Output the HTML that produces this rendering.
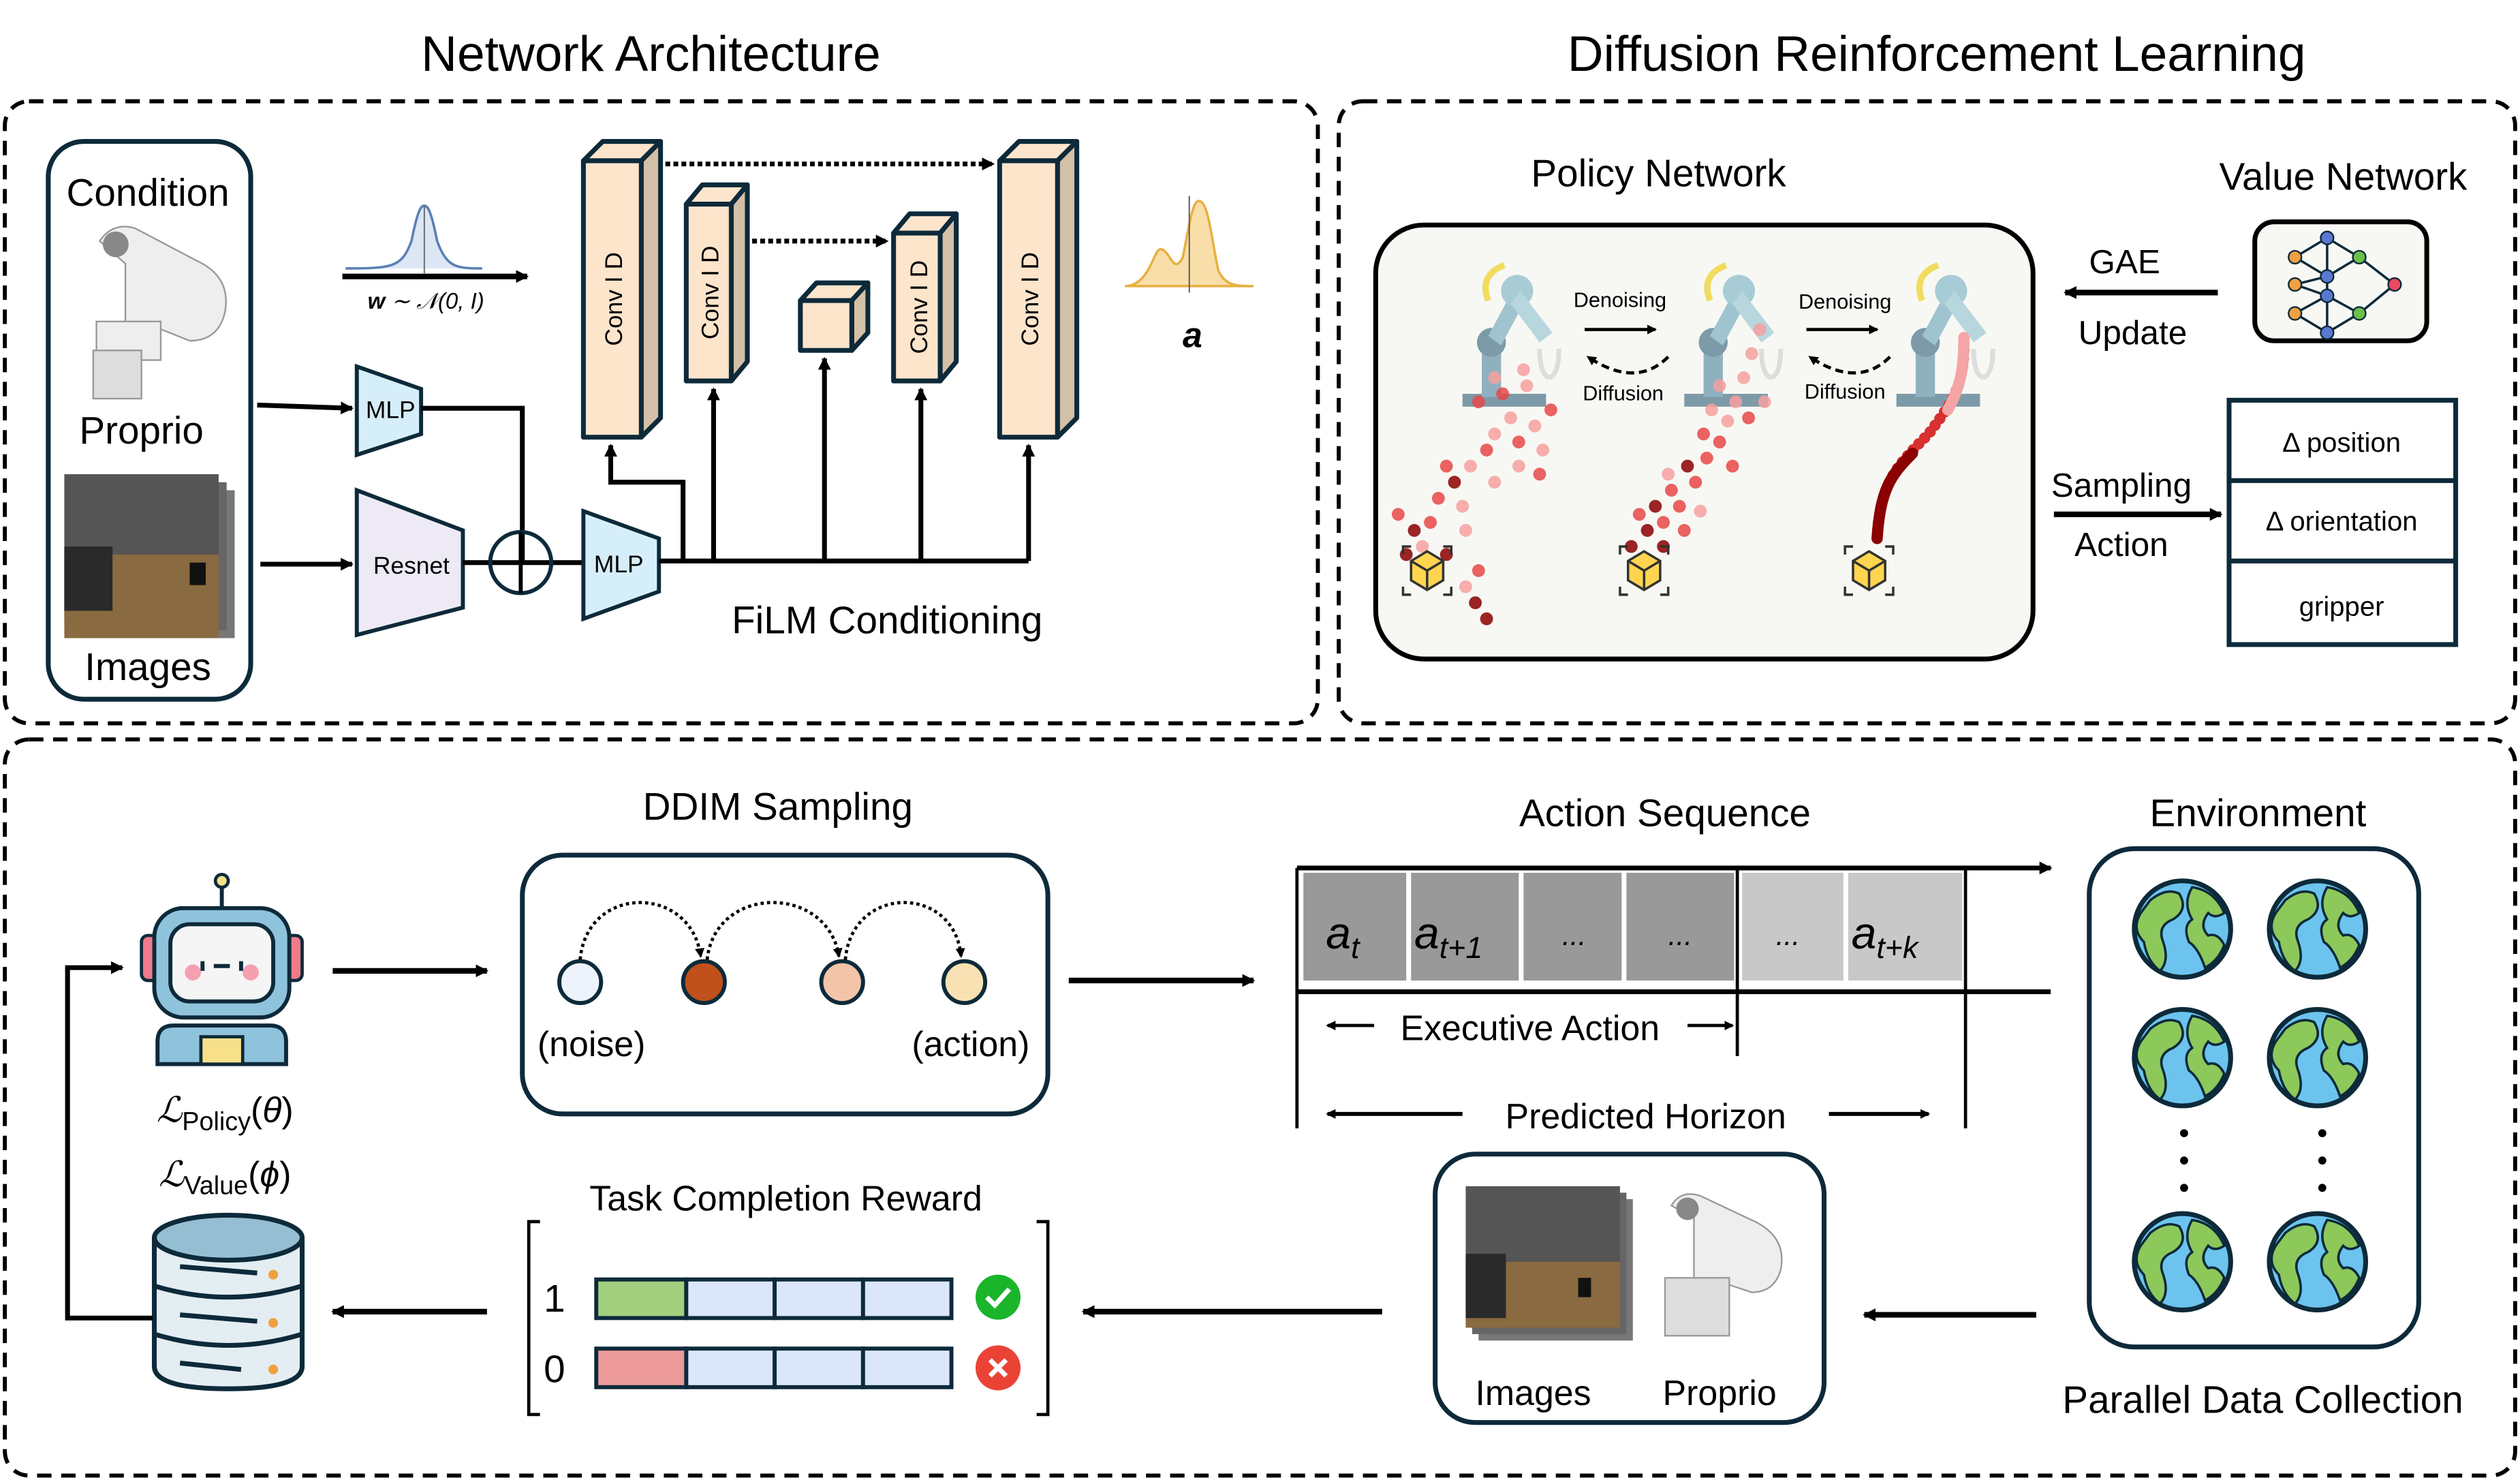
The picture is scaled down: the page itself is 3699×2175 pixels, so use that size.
<!DOCTYPE html>
<html><head><meta charset="utf-8"><style>html,body{margin:0;padding:0;background:#fff}svg{display:block}text{font-family:"Liberation Sans",sans-serif;fill:#000}</style></head><body>
<svg width="3699" height="2175" viewBox="0 0 1568 922" xmlns="http://www.w3.org/2000/svg">
<defs>
<marker id="ah" markerWidth="8" markerHeight="8" refX="7" refY="4" orient="auto" markerUnits="userSpaceOnUse"><path d="M0,0 L8,4 L0,8 z" fill="#000"/></marker>
<marker id="ahs" markerWidth="6" markerHeight="6" refX="5" refY="3" orient="auto" markerUnits="userSpaceOnUse"><path d="M0,0 L6,3 L0,6 z" fill="#000"/></marker>
<g id="globe"><circle r="30" fill="#6cc4ee" stroke="#0d2a3a" stroke-width="3"/><path d="M-20,-18 q10,-8 18,-4 q6,10 -4,16 q-10,4 -6,14 q4,12 -2,18 q-8,-6 -10,-18 q-8,-8 -2,-18z M6,-26 q14,2 20,16 q-6,4 -10,0 q-6,8 0,14 q6,-2 10,6 q-4,10 -12,14 q-4,-12 -10,-16 q-4,-10 2,-14 q-6,-10 0,-20z" fill="#8cc85a" stroke="#0d2a3a" stroke-width="1.5"/></g>
<g id="cube"><path d="M0,-12 L10,-6 L10,6 L0,12 L-10,6 L-10,-6z" fill="#ffd54f" stroke="#333" stroke-width="1.5"/><path d="M-10,-6 L0,0 L10,-6 M0,0 L0,12" fill="none" stroke="#333" stroke-width="1.5"/><path d="M-15,-10 v-5 h5 M10,-15 h5 v5 M15,10 v5 h-5 M-10,15 h-5 v-5" fill="none" stroke="#333" stroke-width="1.5"/></g>
<g id="arm"><rect x="-30" y="50" width="52" height="8" fill="#7d9aa8"/><rect x="-18" y="20" width="12" height="32" fill="#8fb1bf"/><circle cx="-12" cy="18" r="9" fill="#7d9aa8"/><path d="M-14,14 L0,-12 L8,-6 L-6,20z" fill="#9fc3cf"/><circle cx="4" cy="-14" r="10" fill="#a8ccd6"/><path d="M6,-14 L26,12 L18,18 L0,-6z" fill="#b8d6de"/><path d="M-14,-8 q-6,-16 10,-22" fill="none" stroke="#f2dc60" stroke-width="4"/><path d="M18,22 q0,16 6,18 M30,22 q0,16 -6,18" fill="none" stroke="#ddd" stroke-width="3"/></g>
</defs>

<!-- titles -->
<text x="405" y="44" font-size="31" text-anchor="middle">Network Architecture</text>
<text x="1205" y="44" font-size="31" text-anchor="middle">Diffusion Reinforcement Learning</text>

<!-- dashed frames -->
<g fill="none" stroke="#000" stroke-width="2.5" stroke-dasharray="9,6">
<rect x="3" y="63" width="817" height="387" rx="15"/>
<rect x="833" y="63" width="732" height="387" rx="15"/>
<rect x="3" y="460" width="1562" height="458" rx="15"/>
</g>

<!-- Condition box -->
<rect x="30" y="88" width="126" height="347" rx="22" fill="none" stroke="#0d2a3a" stroke-width="3"/>
<text x="92" y="128" font-size="24" text-anchor="middle">Condition</text>
<text x="88" y="276" font-size="24" text-anchor="middle">Proprio</text>
<text x="92" y="423" font-size="24" text-anchor="middle">Images</text>
<!-- robot arm pic -->
<g fill="#eee" stroke="#999" stroke-width="1">
<path d="M62,150 q8,-12 22,-8 l38,20 q22,10 18,32 q-4,18 -22,18 l-20,-8 l0,20 l-20,0 l0,-60z"/>
<rect x="60" y="200" width="40" height="24"/>
<rect x="58" y="218" width="30" height="30" fill="#ddd"/>
</g>
<circle cx="72" cy="152" r="8" fill="#888"/>
<!-- images stack -->
<rect x="50" y="305" width="96" height="92" fill="#777"/>
<rect x="45" y="300" width="96" height="92" fill="#666"/>
<rect x="40" y="295" width="96" height="92" fill="#555"/>
<rect x="40" y="345" width="96" height="52" fill="#8a6a40"/>
<rect x="40" y="340" width="30" height="40" fill="#2a2a2a"/>
<rect x="118" y="350" width="10" height="14" fill="#111"/>

<!-- arrows to MLP / Resnet -->
<line x1="160" y1="252" x2="219" y2="254" stroke="#000" stroke-width="3" marker-end="url(#ah)"/>
<line x1="162" y1="351" x2="219" y2="351" stroke="#000" stroke-width="3" marker-end="url(#ah)"/>
<path d="M222,228 L262,242 L262,270 L222,283z" fill="#d6eef9" stroke="#0d2a3a" stroke-width="2.5"/>
<text x="243" y="260" font-size="15" text-anchor="middle">MLP</text>
<path d="M222,305 L288,330 L288,378 L222,395z" fill="#eeeaf5" stroke="#0d2a3a" stroke-width="2.5"/>
<text x="256" y="357" font-size="15" text-anchor="middle">Resnet</text>
<path d="M262,254 H325 V350" fill="none" stroke="#000" stroke-width="3"/>
<line x1="288" y1="350" x2="362" y2="350" stroke="#000" stroke-width="3"/>
<circle cx="324" cy="350" r="19" fill="none" stroke="#0d2a3a" stroke-width="2.5"/>
<line x1="324" y1="331" x2="324" y2="369" stroke="#000" stroke-width="2.5"/>
<path d="M363,318 L410,335 L410,368 L363,385z" fill="#d6eef9" stroke="#0d2a3a" stroke-width="2.5"/>
<text x="385" y="356" font-size="15" text-anchor="middle">MLP</text>
<g fill="none" stroke="#000" stroke-width="3">
<path d="M410,349 H640"/>
<path d="M425,349 V300 H380 V277" marker-end="url(#ah)"/>
<path d="M444,349 V242" marker-end="url(#ah)"/>
<path d="M513,349 V223" marker-end="url(#ah)"/>
<path d="M573,349 V242" marker-end="url(#ah)"/>
<path d="M640,349 V277" marker-end="url(#ah)"/>
</g>

<!-- conv blocks -->
<g stroke="#0d2a3a" stroke-width="3" stroke-linejoin="round">
<path d="M363,100 l12,-12 h36 l-12,12z" fill="#fde5cc"/><path d="M399,100 l12,-12 v172 l-12,12z" fill="#d4c0a6"/><rect x="363" y="100" width="36" height="172" fill="#fde5cc"/>
<path d="M427,127 l10,-12 h28 l-10,12z" fill="#fde5cc"/><path d="M455,127 l10,-12 v110 l-10,12z" fill="#d4c0a6"/><rect x="427" y="127" width="28" height="110" fill="#fde5cc"/>
<path d="M498,187 l10,-11 h32 l-10,11z" fill="#fde5cc"/><path d="M530,187 l10,-11 v31 l-10,11z" fill="#d4c0a6"/><rect x="498" y="187" width="32" height="31" fill="#fde5cc"/>
<path d="M556,145 l10,-12 h29 l-10,12z" fill="#fde5cc"/><path d="M585,145 l10,-12 v92 l-10,12z" fill="#d4c0a6"/><rect x="556" y="145" width="29" height="92" fill="#fde5cc"/>
<path d="M622,100 l12,-12 h36 l-12,12z" fill="#fde5cc"/><path d="M658,100 l12,-12 v172 l-12,12z" fill="#d4c0a6"/><rect x="622" y="100" width="36" height="172" fill="#fde5cc"/>
</g>
<g font-size="15" text-anchor="middle">
<text transform="translate(387,186) rotate(-90)">Conv I D</text>
<text transform="translate(447,182) rotate(-90)">Conv I D</text>
<text transform="translate(577,191) rotate(-90)">Conv I D</text>
<text transform="translate(646,186) rotate(-90)">Conv I D</text>
</g>
<line x1="414" y1="102" x2="618" y2="102" stroke="#000" stroke-width="3" stroke-dasharray="3,2" marker-end="url(#ah)"/>
<line x1="468" y1="150" x2="552" y2="150" stroke="#000" stroke-width="3" stroke-dasharray="3,2" marker-end="url(#ah)"/>

<!-- gaussian -->
<path d="M215,167 C245,167 250,166 256,150 C260,130 262,128 264,128 C266,128 268,130 272,150 C278,166 283,167 300,167" fill="#dce6f5" stroke="#5a7fb5" stroke-width="1.5"/>
<line x1="264" y1="128" x2="264" y2="170" stroke="#666" stroke-width="0.8"/>
<line x1="213" y1="172" x2="328" y2="172" stroke="#000" stroke-width="3.5" marker-end="url(#ah)"/>
<text x="265" y="192" font-size="14" text-anchor="middle" font-family="Liberation Serif" font-style="italic"><tspan font-weight="bold">w</tspan> ∼ 𝒩(0, I)</text>
<!-- bimodal -->
<path d="M700,178 C715,178 718,155 722,155 C728,155 730,172 736,160 C740,140 742,125 746,125 C752,125 754,150 758,168 C762,178 770,178 780,178z" fill="#f9deaa" stroke="#e8b040" stroke-width="1.5"/>
<line x1="740" y1="122" x2="740" y2="182" stroke="#555" stroke-width="0.8"/>
<text x="742" y="216" font-size="22" font-family="Liberation Serif" font-style="italic" font-weight="bold" text-anchor="middle">a</text>
<text x="552" y="394" font-size="24" text-anchor="middle">FiLM Conditioning</text>

<!-- RIGHT TOP -->
<text x="1032" y="116" font-size="24" text-anchor="middle">Policy Network</text>
<text x="1458" y="118" font-size="24" text-anchor="middle">Value Network</text>
<rect x="856" y="140" width="409" height="270" rx="30" fill="#f7f8f4" stroke="#000" stroke-width="3"/>
<use href="#arm" x="940" y="195"/>
<use href="#arm" x="1078" y="195"/>
<use href="#arm" x="1210" y="195"/>
<text x="1008" y="191" font-size="13" text-anchor="middle">Denoising</text>
<text x="1148" y="192" font-size="13" text-anchor="middle">Denoising</text>
<line x1="986" y1="205" x2="1030" y2="205" stroke="#000" stroke-width="2" marker-end="url(#ahs)"/>
<line x1="1124" y1="205" x2="1168" y2="205" stroke="#000" stroke-width="2" marker-end="url(#ahs)"/>
<path d="M1038,222 q-20,20 -50,0" fill="none" stroke="#000" stroke-width="2" stroke-dasharray="5,3" marker-end="url(#ahs)"/>
<path d="M1176,222 q-20,20 -50,0" fill="none" stroke="#000" stroke-width="2" stroke-dasharray="5,3" marker-end="url(#ahs)"/>
<text x="1010" y="249" font-size="13" text-anchor="middle">Diffusion</text>
<text x="1148" y="248" font-size="13" text-anchor="middle">Diffusion</text>
<!-- dot clouds -->
<g fill="#e84848" opacity="0.85">
<circle cx="870" cy="320" r="4"/><circle cx="880" cy="330" r="4" fill="#8b0000"/><circle cx="895" cy="310" r="4"/><circle cx="905" cy="300" r="4" fill="#8b0000"/><circle cx="912" cy="330" r="4" fill="#f7a0a0"/><circle cx="900" cy="345" r="4" fill="#8b0000"/><circle cx="920" cy="355" r="4"/><circle cx="918" cy="375" r="4" fill="#8b0000"/><circle cx="925" cy="385" r="4" fill="#8b0000"/><circle cx="890" cy="325" r="4"/><circle cx="910" cy="315" r="4" fill="#f7a0a0"/><circle cx="885" cy="340" r="4" fill="#f7a0a0"/><circle cx="875" cy="345" r="4" fill="#8b0000"/><circle cx="912" cy="365" r="4" fill="#f7a0a0"/>
<circle cx="900" cy="290" r="4"/><circle cx="915" cy="290" r="4" fill="#f7a0a0"/><circle cx="925" cy="280" r="4"/><circle cx="930" cy="270" r="4" fill="#f7a0a0"/><circle cx="940" cy="260" r="4" fill="#f7a0a0"/><circle cx="945" cy="275" r="4"/><circle cx="955" cy="265" r="4" fill="#f7a0a0"/><circle cx="960" cy="280" r="4" fill="#f7a0a0"/><circle cx="935" cy="245" r="4"/><circle cx="950" cy="240" r="4" fill="#f7a0a0"/><circle cx="948" cy="230" r="4" fill="#f7a0a0"/><circle cx="965" cy="255" r="4"/><circle cx="930" cy="300" r="4" fill="#f7a0a0"/><circle cx="945" cy="290" r="4" fill="#f7a0a0"/><circle cx="958" cy="295" r="4"/><circle cx="920" cy="250" r="4"/><circle cx="930" cy="235" r="4" fill="#f7a0a0"/>
<circle cx="1015" cy="340" r="4" fill="#8b0000"/><circle cx="1025" cy="330" r="4" fill="#8b0000"/><circle cx="1035" cy="325" r="4"/><circle cx="1045" cy="315" r="4"/><circle cx="1030" cy="315" r="4" fill="#8b0000"/><circle cx="1040" cy="305" r="4"/><circle cx="1055" cy="300" r="4"/><circle cx="1050" cy="290" r="4" fill="#8b0000"/><circle cx="1062" cy="285" r="4"/><circle cx="1070" cy="275" r="4"/><circle cx="1060" cy="270" r="4"/><circle cx="1075" cy="262" r="4" fill="#f7a0a0"/><circle cx="1080" cy="250" r="4" fill="#f7a0a0"/><circle cx="1070" cy="240" r="4" fill="#f7a0a0"/><circle cx="1085" cy="235" r="4" fill="#f7a0a0"/><circle cx="1090" cy="220" r="4" fill="#f7a0a0"/><circle cx="1095" cy="205" r="4" fill="#f7a0a0"/><circle cx="1065" cy="255" r="4" fill="#f7a0a0"/><circle cx="1088" cy="260" r="4"/><circle cx="1078" cy="290" r="4"/><circle cx="1020" cy="320" r="4"/><circle cx="1048" cy="330" r="4"/><circle cx="1058" cy="318" r="4" fill="#f7a0a0"/><circle cx="1038" cy="295" r="4" fill="#f7a0a0"/><circle cx="1098" cy="250" r="4" fill="#f7a0a0"/><circle cx="1035" cy="340" r="4" fill="#8b0000"/>
</g>
<path d="M1168,335 C1170,300 1180,290 1200,270 C1215,250 1222,240 1222,215" fill="none" stroke="#d83030" stroke-width="7" stroke-linecap="round" stroke-dasharray="0.1,5"/>
<path d="M1168,335 C1170,305 1176,296 1190,282" fill="none" stroke="#8b0000" stroke-width="7" stroke-linecap="round"/>
<path d="M1212,255 C1220,240 1222,230 1222,210" fill="none" stroke="#f5a5a5" stroke-width="7" stroke-linecap="round"/>
<use href="#cube" x="888" y="355"/>
<use href="#cube" x="1023" y="355"/>
<use href="#cube" x="1163" y="355"/>

<text x="1322" y="170" font-size="21" text-anchor="middle">GAE</text>
<line x1="1380" y1="182" x2="1285" y2="182" stroke="#000" stroke-width="3.5" marker-end="url(#ah)"/>
<text x="1327" y="214" font-size="21" text-anchor="middle">Update</text>
<rect x="1403" y="138" width="107" height="74" rx="12" fill="#f7f8f4" stroke="#000" stroke-width="3"/>
<g stroke="#0d2a3a" stroke-width="1.5" fill="none"><path d="M1428,160 L1448,148 L1468,160 L1490,177 L1468,195 L1448,207 L1428,195 M1428,160 L1448,172 L1428,177 L1448,184 L1428,195 M1448,148 L1448,207 M1468,160 L1448,172 M1468,195 L1448,184"/></g>
<g stroke="#0d2a3a" stroke-width="1"><circle cx="1428" cy="160" r="4" fill="#f0a040"/><circle cx="1428" cy="177" r="4" fill="#f0a040"/><circle cx="1428" cy="195" r="4" fill="#f0a040"/><circle cx="1448" cy="148" r="4" fill="#5a78d0"/><circle cx="1448" cy="172" r="4" fill="#5a78d0"/><circle cx="1448" cy="184" r="4" fill="#5a78d0"/><circle cx="1448" cy="207" r="4" fill="#5a78d0"/><circle cx="1468" cy="160" r="4" fill="#6cbf4a"/><circle cx="1468" cy="195" r="4" fill="#6cbf4a"/><circle cx="1490" cy="177" r="4" fill="#e84a5f"/></g>

<text x="1320" y="309" font-size="21" text-anchor="middle">Sampling</text>
<line x1="1278" y1="320" x2="1382" y2="320" stroke="#000" stroke-width="3.5" marker-end="url(#ah)"/>
<text x="1320" y="346" font-size="21" text-anchor="middle">Action</text>
<g fill="none" stroke="#0d2a3a" stroke-width="3"><rect x="1387" y="249" width="141" height="152"/><line x1="1387" y1="299" x2="1528" y2="299"/><line x1="1387" y1="349" x2="1528" y2="349"/></g>
<text x="1457" y="281" font-size="17" text-anchor="middle">Δ position</text>
<text x="1457" y="330" font-size="17" text-anchor="middle">Δ orientation</text>
<text x="1457" y="383" font-size="17" text-anchor="middle">gripper</text>

<!-- BOTTOM -->
<text x="484" y="510" font-size="24" text-anchor="middle">DDIM Sampling</text>
<rect x="325" y="532" width="327" height="161" rx="25" fill="none" stroke="#0d2a3a" stroke-width="3"/>
<g stroke="#0d2a3a" stroke-width="2.5"><circle cx="361" cy="611" r="13" fill="#eef3fb"/><circle cx="438" cy="611" r="13" fill="#c0501c"/><circle cx="524" cy="611" r="13" fill="#f4c4a8"/><circle cx="600" cy="611" r="13" fill="#f8e2b4"/></g>
<g fill="none" stroke="#000" stroke-width="2" stroke-dasharray="2,2"><path d="M361,597 C365,550 430,550 436,595" marker-end="url(#ahs)"/><path d="M440,597 C445,550 515,550 522,595" marker-end="url(#ahs)"/><path d="M526,597 C530,550 594,550 598,595" marker-end="url(#ahs)"/></g>
<text x="368" y="657" font-size="22" text-anchor="middle">(noise)</text>
<text x="604" y="657" font-size="22" text-anchor="middle">(action)</text>

<!-- robot icon -->
<line x1="138" y1="550" x2="138" y2="568" stroke="#0d2a3a" stroke-width="2.5"/><circle cx="138" cy="548" r="4" fill="#f8e08a" stroke="#0d2a3a" stroke-width="2"/>
<rect x="88" y="582" width="12" height="28" rx="4" fill="#ef7a8a" stroke="#0d2a3a" stroke-width="2"/><rect x="176" y="582" width="12" height="28" rx="4" fill="#ef7a8a" stroke="#0d2a3a" stroke-width="2"/>
<rect x="96" y="565" width="84" height="68" rx="18" fill="#8fc3dc" stroke="#0d2a3a" stroke-width="2.5"/>
<rect x="106" y="575" width="64" height="48" rx="12" fill="#f5f5f5" stroke="#0d2a3a" stroke-width="2.5"/>
<circle cx="120" cy="605" r="5" fill="#f4a0b0"/><circle cx="156" cy="605" r="5" fill="#f4a0b0"/><line x1="126" y1="598" x2="126" y2="604" stroke="#0d2a3a" stroke-width="2.5"/><line x1="133" y1="601" x2="143" y2="601" stroke="#0d2a3a" stroke-width="2.5"/><line x1="150" y1="598" x2="150" y2="604" stroke="#0d2a3a" stroke-width="2.5"/>
<path d="M98,662 V648 q0,-10 10,-10 h60 q10,0 10,10 v14z" fill="#8fc3dc" stroke="#0d2a3a" stroke-width="2.5"/><rect x="125" y="645" width="26" height="17" fill="#f8e08a" stroke="#0d2a3a" stroke-width="2"/>
<line x1="207" y1="604" x2="303" y2="604" stroke="#000" stroke-width="3.5" marker-end="url(#ah)"/>
<text x="140" y="698" font-size="22" text-anchor="middle" font-family="Liberation Serif" font-style="italic">ℒ<tspan font-style="normal" font-size="16" dy="5">Policy</tspan><tspan dy="-5" font-style="normal">(</tspan>θ<tspan font-style="normal">)</tspan></text>
<text x="140" y="738" font-size="22" text-anchor="middle" font-family="Liberation Serif" font-style="italic">ℒ<tspan font-style="normal" font-size="16" dy="5">Value</tspan><tspan dy="-5" font-style="normal">(</tspan>ϕ<tspan font-style="normal">)</tspan></text>

<!-- database -->
<g stroke="#0d2a3a" stroke-width="3">
<path d="M96,770 V850 q0,14 46,14 q46,0 46,-14 V770" fill="#e3edf2"/>
<ellipse cx="142" cy="770" rx="46" ry="14" fill="#95bed2"/>
<path d="M96,800 q46,14 92,0 M96,830 q46,14 92,0" fill="none"/>
<line x1="112" y1="788" x2="160" y2="792" /><line x1="112" y1="818" x2="160" y2="822"/><line x1="112" y1="848" x2="150" y2="852"/>
</g>
<g fill="#f0a040"><circle cx="170" cy="793" r="3"/><circle cx="170" cy="823" r="3"/><circle cx="170" cy="852" r="3"/></g>
<path d="M95,820 H42 V602 H76" fill="none" stroke="#000" stroke-width="3" marker-end="url(#ah)"/>

<line x1="665" y1="610" x2="780" y2="610" stroke="#000" stroke-width="3.5" marker-end="url(#ah)"/>

<!-- action sequence -->
<text x="1036" y="514" font-size="24" text-anchor="middle">Action Sequence</text>
<g fill="#999"><rect x="811" y="543" width="64" height="67"/><rect x="878" y="543" width="67" height="67"/><rect x="948" y="543" width="61" height="67"/><rect x="1012" y="543" width="67" height="67"/></g>
<g fill="#c8c8c8"><rect x="1084" y="543" width="63" height="67"/><rect x="1150" y="543" width="71" height="67"/></g>
<g fill="#fff" font-family="Liberation Serif" font-style="italic" font-size="28"><text x="825" y="590">a<tspan font-size="19" dy="6">t</tspan></text><text x="880" y="590">a<tspan font-size="19" dy="6">t+1</tspan></text><text x="1152" y="590">a<tspan font-size="19" dy="6">t+k</tspan></text><text x="972" y="588" font-size="18">...</text><text x="1038" y="588" font-size="18">...</text><text x="1105" y="588" font-size="18">...</text></g>
<line x1="807" y1="540" x2="1276" y2="540" stroke="#000" stroke-width="3" marker-end="url(#ah)"/>
<line x1="807" y1="617" x2="1276" y2="617" stroke="#000" stroke-width="3"/>
<g stroke="#000" stroke-width="2"><line x1="807" y1="540" x2="807" y2="702"/><line x1="1081" y1="540" x2="1081" y2="657"/><line x1="1223" y1="540" x2="1223" y2="702"/></g>
<line x1="855" y1="638" x2="826" y2="638" stroke="#000" stroke-width="2" marker-end="url(#ahs)"/>
<line x1="1050" y1="638" x2="1078" y2="638" stroke="#000" stroke-width="2" marker-end="url(#ahs)"/>
<text x="952" y="647" font-size="22" text-anchor="middle">Executive Action</text>
<line x1="910" y1="693" x2="826" y2="693" stroke="#000" stroke-width="2.5" marker-end="url(#ahs)"/>
<line x1="1138" y1="693" x2="1200" y2="693" stroke="#000" stroke-width="2.5" marker-end="url(#ahs)"/>
<text x="1024" y="702" font-size="22" text-anchor="middle">Predicted Horizon</text>

<!-- Environment -->
<text x="1405" y="514" font-size="24" text-anchor="middle">Environment</text>
<rect x="1300" y="528" width="205" height="310" rx="28" fill="none" stroke="#0d2a3a" stroke-width="3"/>
<use href="#globe" x="1358" y="578"/><use href="#globe" x="1442" y="578"/>
<use href="#globe" x="1358" y="658"/><use href="#globe" x="1442" y="658"/>
<use href="#globe" x="1358" y="785"/><use href="#globe" x="1442" y="785"/>
<g fill="#000"><circle cx="1359" cy="705" r="2.5"/><circle cx="1359" cy="722" r="2.5"/><circle cx="1359" cy="739" r="2.5"/><circle cx="1445" cy="705" r="2.5"/><circle cx="1445" cy="722" r="2.5"/><circle cx="1445" cy="739" r="2.5"/></g>
<text x="1408" y="879" font-size="24" text-anchor="middle">Parallel Data Collection</text>

<!-- obs box -->
<rect x="893" y="718" width="242" height="167" rx="25" fill="none" stroke="#0d2a3a" stroke-width="3"/>
<rect x="920" y="746" width="96" height="88" fill="#777"/><rect x="916" y="742" width="96" height="88" fill="#666"/><rect x="912" y="738" width="96" height="88" fill="#555"/>
<rect x="912" y="785" width="96" height="41" fill="#8a6a40"/><rect x="912" y="780" width="25" height="40" fill="#2a2a2a"/><rect x="982" y="795" width="8" height="12" fill="#111"/>
<g fill="#eee" stroke="#999" stroke-width="1"><path d="M1040,750 q6,-10 18,-6 l34,16 q20,10 16,30 q-4,14 -18,14 l-18,-6 l0,16 l-18,0 l0,-56z"/><rect x="1036" y="795" width="40" height="36" fill="#ddd"/></g>
<circle cx="1050" cy="752" r="7" fill="#888"/>
<text x="954" y="874" font-size="22" text-anchor="middle">Images</text>
<text x="1070" y="874" font-size="22" text-anchor="middle">Proprio</text>

<line x1="1267" y1="818" x2="1160" y2="818" stroke="#000" stroke-width="3.5" marker-end="url(#ah)"/>
<line x1="860" y1="816" x2="674" y2="816" stroke="#000" stroke-width="3.5" marker-end="url(#ah)"/>
<line x1="303" y1="816" x2="207" y2="816" stroke="#000" stroke-width="3.5" marker-end="url(#ah)"/>

<!-- reward -->
<text x="489" y="753" font-size="22" text-anchor="middle">Task Completion Reward</text>
<path d="M336,760 H329 V880 H336 M645,760 H652 V880 H645" fill="none" stroke="#000" stroke-width="2"/>
<text x="345" y="816" font-size="24" text-anchor="middle">1</text>
<text x="345" y="860" font-size="24" text-anchor="middle">0</text>
<g stroke="#0d2a3a" stroke-width="2.5">
<rect x="371" y="796" width="56" height="24" fill="#a1cf7d"/><rect x="427" y="796" width="55" height="24" fill="#dbe6fb"/><rect x="482" y="796" width="55" height="24" fill="#dbe6fb"/><rect x="537" y="796" width="55" height="24" fill="#dbe6fb"/>
<rect x="371" y="839" width="56" height="24" fill="#ec9a9a"/><rect x="427" y="839" width="55" height="24" fill="#dbe6fb"/><rect x="482" y="839" width="55" height="24" fill="#dbe6fb"/><rect x="537" y="839" width="55" height="24" fill="#dbe6fb"/>
</g>
<circle cx="621" cy="807" r="14" fill="#1ab52a"/><path d="M614,807 l5,5 l9,-10" fill="none" stroke="#fff" stroke-width="3"/>
<circle cx="621" cy="851" r="14" fill="#ea4335"/><path d="M616,846 l10,10 M626,846 l-10,10" stroke="#fff" stroke-width="3"/>
</svg>
</body></html>
